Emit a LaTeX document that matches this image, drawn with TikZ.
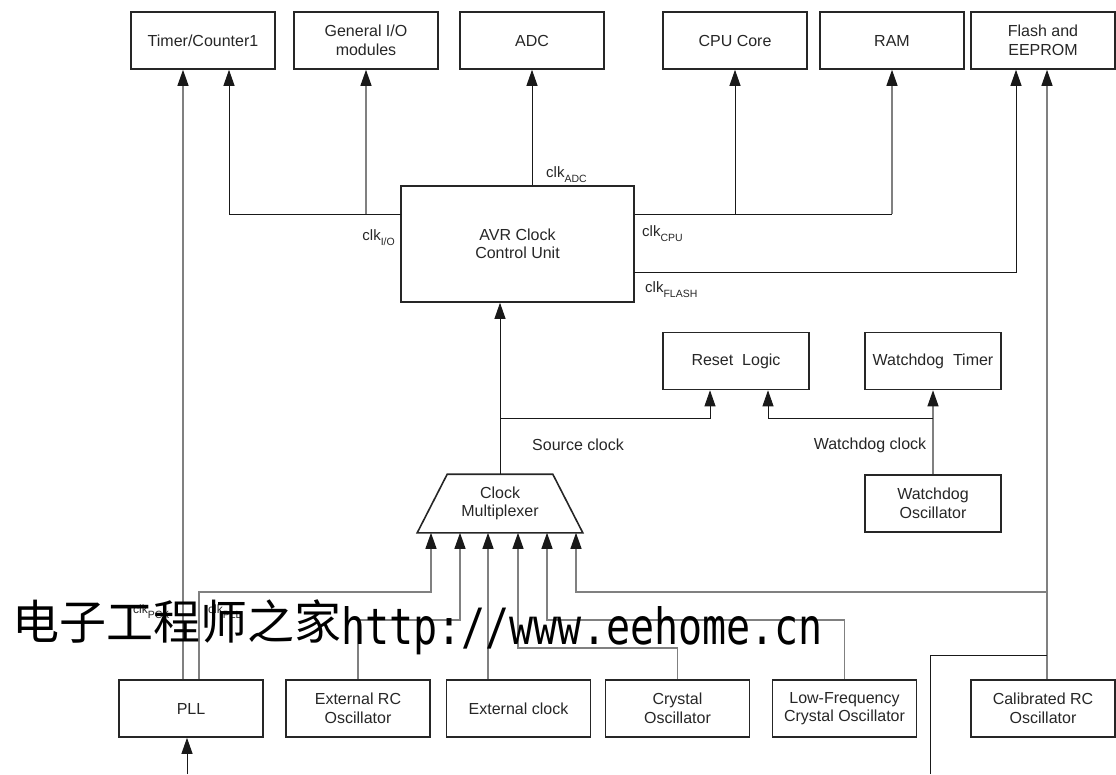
\documentclass[tikz,border=0pt]{standalone}
\usepackage{fontspec}
\setmainfont{Liberation Sans}
\newfontfamily\cjkfont{Noto Sans CJK SC}
\newfontfamily\urlfont[FakeStretch=0.8]{DejaVu Sans Mono}
\usetikzlibrary{arrows.meta}

\newcommand{\clksub}[1]{clk\raisebox{-5pt}{\fontsize{10.5}{12}\selectfont #1}}

\tikzstyle{block}=[draw=black!85,line width=1.6pt,minimum width=144pt,minimum height=57pt,inner sep=2pt,align=center,text=black!85,font=\fontsize{16}{18.5}\selectfont]
\tikzstyle{mux}=[block,draw=none,minimum width=164pt]
\tikzstyle{edge}=[draw,line width=0.9pt,black!90,-{Triangle[length=16pt,width=11pt,color=black!90]}]
\tikzstyle{gray edge}=[edge,black!50,line width=1.2pt]
\tikzstyle{wire}=[draw,line width=0.9pt,black!90]
\tikzstyle{clklabel}=[inner sep=0pt,text=black!85,font=\fontsize{15}{18}\selectfont]
\tikzstyle{note}=[inner sep=0pt,text=black!85,font=\fontsize{16}{18.5}\selectfont]

\begin{document}
\begin{tikzpicture}[x=1pt,y=-1pt]
     \useasboundingbox (0,0) rectangle (1116,774);
     % First the clock consumers along the top
     \foreach \pos/\name/\txt in {{(203,40.5)/timer/{Timer/Counter1}},
       {(366,40.5)/genio/{General I/O\\modules}}, {(532,40.5)/adc/ADC},
       {(735,40.5)/cpu/{CPU Core}}, {(892,40.5)/ram/RAM},
       {(1043,40.5)/flash/{Flash and\\EEPROM}}}
     \node[block] (\name) at \pos {\txt};
     % Then the clock sources along the bottom
     \foreach \pos/\name/\txt in {{(191,708.5)/pll/PLL},
       {(358,708.5)/extrc/{External RC\\Oscillator}},
       {(518.5,708.5)/extclk/{External clock}},
       {(677.5,708.5)/crystal/{Crystal\\Oscillator}},
       {(844.5,708.5)/lowfreq/{Low-Frequency\\Crystal Oscillator}},
       {(1043,708.5)/calrc/{Calibrated RC\\Oscillator}}}
     \node[block] (\name) at \pos {\txt};
     % Control unit, reset and watchdog
     \node[block,minimum width=233pt,minimum height=116pt] (avr) at (517.5,244) {AVR Clock\\Control Unit};
     \node[block,minimum width=146pt] (reset) at (736,361) {Reset~~Logic};
     \node[block,minimum width=136pt] (wdtimer) at (933,361) {Watchdog~~Timer};
     \node[block,minimum width=136pt] (wdosc) at (933,503.5) {Watchdog\\Oscillator};
     \node[mux] (mux) at (500,503.5) {Clock\\Multiplexer};
     \draw[draw=black!85,line width=1.6pt,line join=miter] (mux.south west) -- ([xshift=30pt]mux.north west)
       -- ([xshift=-30pt]mux.north east) -- (mux.south east) -- cycle;

     % Clocks out of the control unit
     \coordinate (tapio) at (401,214);
     \coordinate (tapfl) at (634,272);
     \path[edge] (tapio) -| ([xshift=26pt]timer.south);
     \path[gray edge] (tapio -| genio.south) -- (genio.south);
     \path[edge] (avr.north -| adc.south) -- (adc.south);
     \path[wire] (tapio -| avr.east) -- (tapio -| ram.south);
     \path[edge] (tapio -| cpu.south) -- (cpu.south);
     \path[gray edge] (tapio -| ram.south) -- (ram.south);
     \path[edge] (tapfl) -| ([xshift=-27pt]flash.south);
     \path[gray edge] ([xshift=-8pt]pll.north) -- ([xshift=-8pt]pll.north |- timer.south);

     % Multiplexer inputs
     \coordinate (busA) at (0,592);
     \coordinate (busB) at (0,620);
     \coordinate (busC) at (0,648);
     \coordinate (busD) at (0,655);
     \foreach \i/\dx in {1/-69,2/-40,3/-12,4/18,5/47,6/76}
     \coordinate (in\i) at ([xshift=\dx pt]mux.south);
     \path[gray edge] ([xshift=8pt]pll.north) |- (busA -| in1) -- (in1);
     \path[gray edge] (extrc.north) |- (busB -| in2) -- (in2);
     \path[gray edge] (in3 |- extclk.north) -- (in3);
     \path[gray edge] (crystal.north) |- (busC -| in4) -- (in4);
     \path[gray edge] (lowfreq.north) |- (busB -| in5) -- (in5);
     \path[gray edge] ([xshift=4pt]calrc.north) -- ([xshift=4pt]flash.south);
     \path[gray edge] ([xshift=4pt]calrc.north |- busA) -| (in6);
     \coordinate (stub) at (930,774);
     \path[wire] (stub) |- ([xshift=4pt]calrc.north |- busD);
     \coordinate (pllin) at (187,774);
     \path[edge] (pllin) -- (pllin |- pll.south);

     % Source clock and watchdog clock
     \coordinate (busR) at (0,418);
     \path[edge] (mux.north) -- (mux.north |- avr.south);
     \path[edge] (mux.north |- busR) -| ([xshift=-26pt]reset.south);
     \path[gray edge] (wdosc.north) -- (wdtimer.south);
     \path[edge] (wdosc.north |- busR) -| ([xshift=32pt]reset.south);

     % Clock names
     \node[note] (srcclk) at (578,445) {Source clock};
     \node[note] (wdclk) at (870,445) {Watchdog clock};
     \node[clklabel,anchor=base east] (lio) at (395,240) {\clksub{I/O}};
     \node[clklabel,anchor=base west] (ladc) at (546,177) {\clksub{ADC}};
     \node[clklabel,anchor=base west] (lcpu) at (642,236) {\clksub{CPU}};
     \node[clklabel,anchor=base west] (lflash) at (645,292) {\clksub{FLASH}};
     \node[clklabel,font=\fontsize{12}{14}\selectfont,anchor=base west] (lpck) at (133,613) {\clksub{PCK}};
     \node[clklabel,font=\fontsize{12}{14}\selectfont,anchor=base west] (lpll) at (208,613) {\clksub{PLL}};

     % Overprinted site name
     \node[anchor=base west,inner sep=0pt] (wm) at (12,644)
       {\raisebox{5pt}{\cjkfont\fontsize{47}{50}\selectfont 电子工程师之家}\urlfont\fontsize{50}{55}\selectfont http://www.eehome.cn};
\end{tikzpicture}
\end{document}
